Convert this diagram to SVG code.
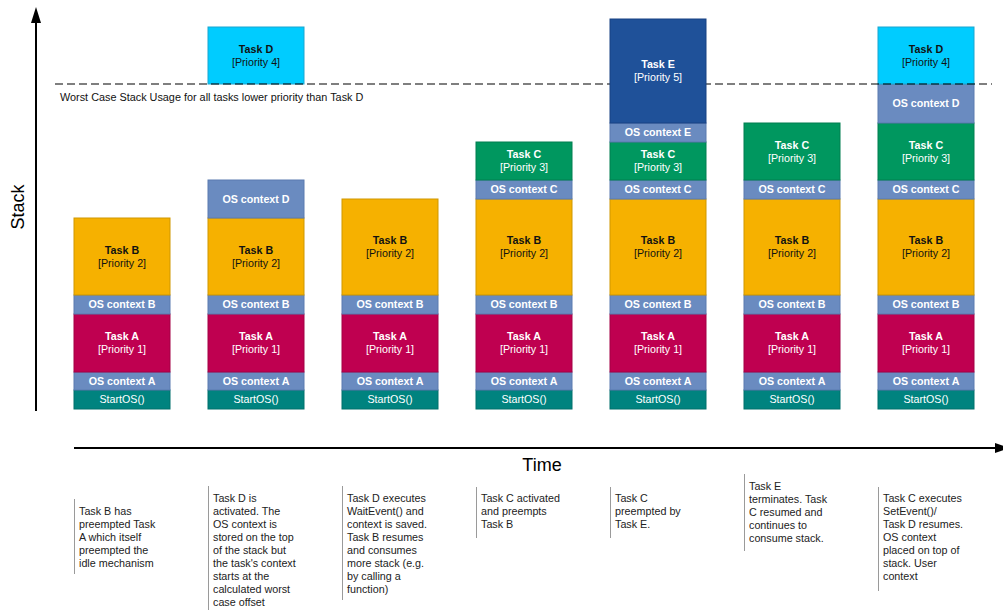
<svg xmlns="http://www.w3.org/2000/svg" width="1003" height="610" viewBox="0 0 1003 610">
<style>
.box{stroke-width:1}
.sos{fill:#00837F;stroke:#00706C}
.osc{fill:#6A8BC0;stroke:#5B7BB0}
.ta{fill:#BF0050;stroke:#A30044}
.tb{fill:#F6B100;stroke:#CF9700}
.tc{fill:#00975F;stroke:#007F50}
.td{fill:#00CCFF;stroke:#1AA6D0}
.te{fill:#1F5199;stroke:#184283}
text{font-family:"Liberation Sans",Arial,sans-serif}
.b{font-size:10.7px;font-weight:bold;text-anchor:middle}
.n{font-size:10.7px;text-anchor:middle}
.w{fill:#ffffff}
.k{fill:#111111}
.desc{font-size:10.75px;fill:#222222}
.dl{stroke:#9a9a9a;stroke-width:1}
.ax{stroke:#000;stroke-width:2;fill:none}
</style>

<text x="0" y="0" font-size="18" transform="translate(24,207) rotate(-90)" text-anchor="middle" fill="#000">Stack</text>
<text x="542" y="471" font-size="18" text-anchor="middle" fill="#000">Time</text>
<text x="60" y="101" font-size="10.85" fill="#111">Worst Case Stack Usage for all tasks lower priority than Task D</text>

<!-- Column 1 -->
<g id="col1">
  <g id="c1-startos"><rect class="box sos" x="74" y="390" width="96" height="19"/><text class="n w" x="122" y="403.3">StartOS()</text></g>
  <g id="c1-osa"><rect class="box osc" x="74" y="372" width="96" height="18"/><text class="b w" x="122" y="384.8">OS context A</text></g>
  <g id="c1-taska"><rect class="box ta" x="74" y="314" width="96" height="58"/><text class="b w" x="122" y="340.3">Task A</text><text class="n w" x="122" y="353.3">[Priority 1]</text></g>
  <g id="c1-osb"><rect class="box osc" x="74" y="295" width="96" height="19"/><text class="b w" x="122" y="308.3">OS context B</text></g>
  <g id="c1-taskb"><rect class="box tb" x="74" y="218" width="96" height="77"/><text class="b k" x="122" y="253.8">Task B</text><text class="n k" x="122" y="266.8">[Priority 2]</text></g>
</g>

<!-- Column 2 -->
<g id="col2">
  <g id="c2-startos"><rect class="box sos" x="208" y="390" width="96" height="19"/><text class="n w" x="256" y="403.3">StartOS()</text></g>
  <g id="c2-osa"><rect class="box osc" x="208" y="372" width="96" height="18"/><text class="b w" x="256" y="384.8">OS context A</text></g>
  <g id="c2-taska"><rect class="box ta" x="208" y="314" width="96" height="58"/><text class="b w" x="256" y="340.3">Task A</text><text class="n w" x="256" y="353.3">[Priority 1]</text></g>
  <g id="c2-osb"><rect class="box osc" x="208" y="295" width="96" height="19"/><text class="b w" x="256" y="308.3">OS context B</text></g>
  <g id="c2-taskb"><rect class="box tb" x="208" y="218" width="96" height="77"/><text class="b k" x="256" y="253.8">Task B</text><text class="n k" x="256" y="266.8">[Priority 2]</text></g>
  <g id="c2-osd"><rect class="box osc" x="208" y="180" width="96" height="38"/><text class="b w" x="256" y="202.8">OS context D</text></g>
  <g id="c2-taskd"><rect class="box td" x="208" y="27" width="96" height="57"/><text class="b k" x="256" y="52.8">Task D</text><text class="n k" x="256" y="65.8">[Priority 4]</text></g>
</g>

<!-- Column 3 -->
<g id="col3">
  <g id="c3-startos"><rect class="box sos" x="342" y="390" width="96" height="19"/><text class="n w" x="390" y="403.3">StartOS()</text></g>
  <g id="c3-osa"><rect class="box osc" x="342" y="372" width="96" height="18"/><text class="b w" x="390" y="384.8">OS context A</text></g>
  <g id="c3-taska"><rect class="box ta" x="342" y="314" width="96" height="58"/><text class="b w" x="390" y="340.3">Task A</text><text class="n w" x="390" y="353.3">[Priority 1]</text></g>
  <g id="c3-osb"><rect class="box osc" x="342" y="295" width="96" height="19"/><text class="b w" x="390" y="308.3">OS context B</text></g>
  <g id="c3-taskb"><rect class="box tb" x="342" y="199" width="96" height="96"/><text class="b k" x="390" y="244.3">Task B</text><text class="n k" x="390" y="257.3">[Priority 2]</text></g>
</g>

<!-- Column 4 -->
<g id="col4">
  <g id="c4-startos"><rect class="box sos" x="476" y="390" width="96" height="19"/><text class="n w" x="524" y="403.3">StartOS()</text></g>
  <g id="c4-osa"><rect class="box osc" x="476" y="372" width="96" height="18"/><text class="b w" x="524" y="384.8">OS context A</text></g>
  <g id="c4-taska"><rect class="box ta" x="476" y="314" width="96" height="58"/><text class="b w" x="524" y="340.3">Task A</text><text class="n w" x="524" y="353.3">[Priority 1]</text></g>
  <g id="c4-osb"><rect class="box osc" x="476" y="295" width="96" height="19"/><text class="b w" x="524" y="308.3">OS context B</text></g>
  <g id="c4-taskb"><rect class="box tb" x="476" y="199" width="96" height="96"/><text class="b k" x="524" y="244.3">Task B</text><text class="n k" x="524" y="257.3">[Priority 2]</text></g>
  <g id="c4-osc"><rect class="box osc" x="476" y="180" width="96" height="19"/><text class="b w" x="524" y="193.3">OS context C</text></g>
  <g id="c4-taskc"><rect class="box tc" x="476" y="142" width="96" height="38"/><text class="b w" x="524" y="158.3">Task C</text><text class="n w" x="524" y="171.3">[Priority 3]</text></g>
</g>

<!-- Column 6 -->
<g id="col6">
  <g id="c6-startos"><rect class="box sos" x="744" y="390" width="96" height="19"/><text class="n w" x="792" y="403.3">StartOS()</text></g>
  <g id="c6-osa"><rect class="box osc" x="744" y="372" width="96" height="18"/><text class="b w" x="792" y="384.8">OS context A</text></g>
  <g id="c6-taska"><rect class="box ta" x="744" y="314" width="96" height="58"/><text class="b w" x="792" y="340.3">Task A</text><text class="n w" x="792" y="353.3">[Priority 1]</text></g>
  <g id="c6-osb"><rect class="box osc" x="744" y="295" width="96" height="19"/><text class="b w" x="792" y="308.3">OS context B</text></g>
  <g id="c6-taskb"><rect class="box tb" x="744" y="199" width="96" height="96"/><text class="b k" x="792" y="244.3">Task B</text><text class="n k" x="792" y="257.3">[Priority 2]</text></g>
  <g id="c6-osc"><rect class="box osc" x="744" y="180" width="96" height="19"/><text class="b w" x="792" y="193.3">OS context C</text></g>
  <g id="c6-taskc"><rect class="box tc" x="744" y="123" width="96" height="57"/><text class="b w" x="792" y="148.8">Task C</text><text class="n w" x="792" y="161.8">[Priority 3]</text></g>
</g>

<!-- Column 7 -->
<g id="col7">
  <g id="c7-startos"><rect class="box sos" x="878" y="390" width="96" height="19"/><text class="n w" x="926" y="403.3">StartOS()</text></g>
  <g id="c7-osa"><rect class="box osc" x="878" y="372" width="96" height="18"/><text class="b w" x="926" y="384.8">OS context A</text></g>
  <g id="c7-taska"><rect class="box ta" x="878" y="314" width="96" height="58"/><text class="b w" x="926" y="340.3">Task A</text><text class="n w" x="926" y="353.3">[Priority 1]</text></g>
  <g id="c7-osb"><rect class="box osc" x="878" y="295" width="96" height="19"/><text class="b w" x="926" y="308.3">OS context B</text></g>
  <g id="c7-taskb"><rect class="box tb" x="878" y="199" width="96" height="96"/><text class="b k" x="926" y="244.3">Task B</text><text class="n k" x="926" y="257.3">[Priority 2]</text></g>
  <g id="c7-osc"><rect class="box osc" x="878" y="180" width="96" height="19"/><text class="b w" x="926" y="193.3">OS context C</text></g>
  <g id="c7-taskc"><rect class="box tc" x="878" y="123" width="96" height="57"/><text class="b w" x="926" y="148.8">Task C</text><text class="n w" x="926" y="161.8">[Priority 3]</text></g>
  <g id="c7-osd"><rect class="box osc" x="878" y="84" width="96" height="39"/><text class="b w" x="926" y="107.3">OS context D</text></g>
  <g id="c7-taskd"><rect class="box td" x="878" y="27" width="96" height="57"/><text class="b k" x="926" y="52.8">Task D</text><text class="n k" x="926" y="65.8">[Priority 4]</text></g>
</g>

<g id="connectors">
  <line class="ax" x1="36" y1="411" x2="36" y2="20"/>
  <polygon points="31,23 36,7 41,23" fill="#000"/>
  <line class="ax" x1="74" y1="448" x2="997" y2="448"/>
  <polygon points="995,443 1010,448 995,453" fill="#000"/>
  <line x1="55" y1="84" x2="992" y2="84" stroke="#000" stroke-width="1.2" stroke-dasharray="8 4"/>
</g>

<!-- Column 5 -->
<g id="col5">
  <g id="c5-startos"><rect class="box sos" x="610" y="390" width="96" height="19"/><text class="n w" x="658" y="403.3">StartOS()</text></g>
  <g id="c5-osa"><rect class="box osc" x="610" y="372" width="96" height="18"/><text class="b w" x="658" y="384.8">OS context A</text></g>
  <g id="c5-taska"><rect class="box ta" x="610" y="314" width="96" height="58"/><text class="b w" x="658" y="340.3">Task A</text><text class="n w" x="658" y="353.3">[Priority 1]</text></g>
  <g id="c5-osb"><rect class="box osc" x="610" y="295" width="96" height="19"/><text class="b w" x="658" y="308.3">OS context B</text></g>
  <g id="c5-taskb"><rect class="box tb" x="610" y="199" width="96" height="96"/><text class="b k" x="658" y="244.3">Task B</text><text class="n k" x="658" y="257.3">[Priority 2]</text></g>
  <g id="c5-osc"><rect class="box osc" x="610" y="180" width="96" height="19"/><text class="b w" x="658" y="193.3">OS context C</text></g>
  <g id="c5-taskc"><rect class="box tc" x="610" y="142" width="96" height="38"/><text class="b w" x="658" y="158.3">Task C</text><text class="n w" x="658" y="171.3">[Priority 3]</text></g>
  <g id="c5-ose"><rect class="box osc" x="610" y="123" width="96" height="19"/><text class="b w" x="658" y="136.3">OS context E</text></g>
  <g id="c5-taske"><rect class="box te" x="610" y="19" width="96" height="104"/><text class="b w" x="658" y="68.3">Task E</text><text class="n w" x="658" y="81.3">[Priority 5]</text></g>
</g>

<!-- Descriptions -->
<g id="desc1">
  <line class="dl" x1="74.5" y1="499" x2="74.5" y2="574"/>
  <text class="desc" x="79" y="514.5">Task B has<tspan x="79" dy="13">preempted Task</tspan><tspan x="79" dy="13">A which itself</tspan><tspan x="79" dy="13">preempted the</tspan><tspan x="79" dy="13">idle mechanism</tspan></text>
</g>
<g id="desc2">
  <line class="dl" x1="208.5" y1="486" x2="208.5" y2="610"/>
  <text class="desc" x="213" y="501.5">Task D is<tspan x="213" dy="13">activated. The</tspan><tspan x="213" dy="13">OS context is</tspan><tspan x="213" dy="13">stored on the top</tspan><tspan x="213" dy="13">of the stack but</tspan><tspan x="213" dy="13">the task's context</tspan><tspan x="213" dy="13">starts at the</tspan><tspan x="213" dy="13">calculated worst</tspan><tspan x="213" dy="13">case offset</tspan></text>
</g>
<g id="desc3">
  <line class="dl" x1="342.5" y1="486" x2="342.5" y2="600"/>
  <text class="desc" x="347" y="501.5">Task D executes<tspan x="347" dy="13">WaitEvent() and</tspan><tspan x="347" dy="13">context is saved.</tspan><tspan x="347" dy="13">Task B resumes</tspan><tspan x="347" dy="13">and consumes</tspan><tspan x="347" dy="13">more stack (e.g.</tspan><tspan x="347" dy="13">by calling a</tspan><tspan x="347" dy="13">function)</tspan></text>
</g>
<g id="desc4">
  <line class="dl" x1="476.5" y1="487" x2="476.5" y2="538"/>
  <text class="desc" x="481" y="501.5">Task C activated<tspan x="481" dy="13">and preempts</tspan><tspan x="481" dy="13">Task B</tspan></text>
</g>
<g id="desc5">
  <line class="dl" x1="610.5" y1="487" x2="610.5" y2="538"/>
  <text class="desc" x="615" y="501.5">Task C<tspan x="615" dy="13">preempted by</tspan><tspan x="615" dy="13">Task E.</tspan></text>
</g>
<g id="desc6">
  <line class="dl" x1="744.5" y1="474" x2="744.5" y2="551"/>
  <text class="desc" x="749" y="489.5">Task E<tspan x="749" dy="13">terminates. Task</tspan><tspan x="749" dy="13">C resumed and</tspan><tspan x="749" dy="13">continues to</tspan><tspan x="749" dy="13">consume stack.</tspan></text>
</g>
<g id="desc7">
  <line class="dl" x1="878.5" y1="487" x2="878.5" y2="591"/>
  <text class="desc" x="883" y="501.5">Task C executes<tspan x="883" dy="13">SetEvent()/</tspan><tspan x="883" dy="13">Task D resumes.</tspan><tspan x="883" dy="13">OS context</tspan><tspan x="883" dy="13">placed on top of</tspan><tspan x="883" dy="13">stack. User</tspan><tspan x="883" dy="13">context</tspan></text>
</g>
</svg>
